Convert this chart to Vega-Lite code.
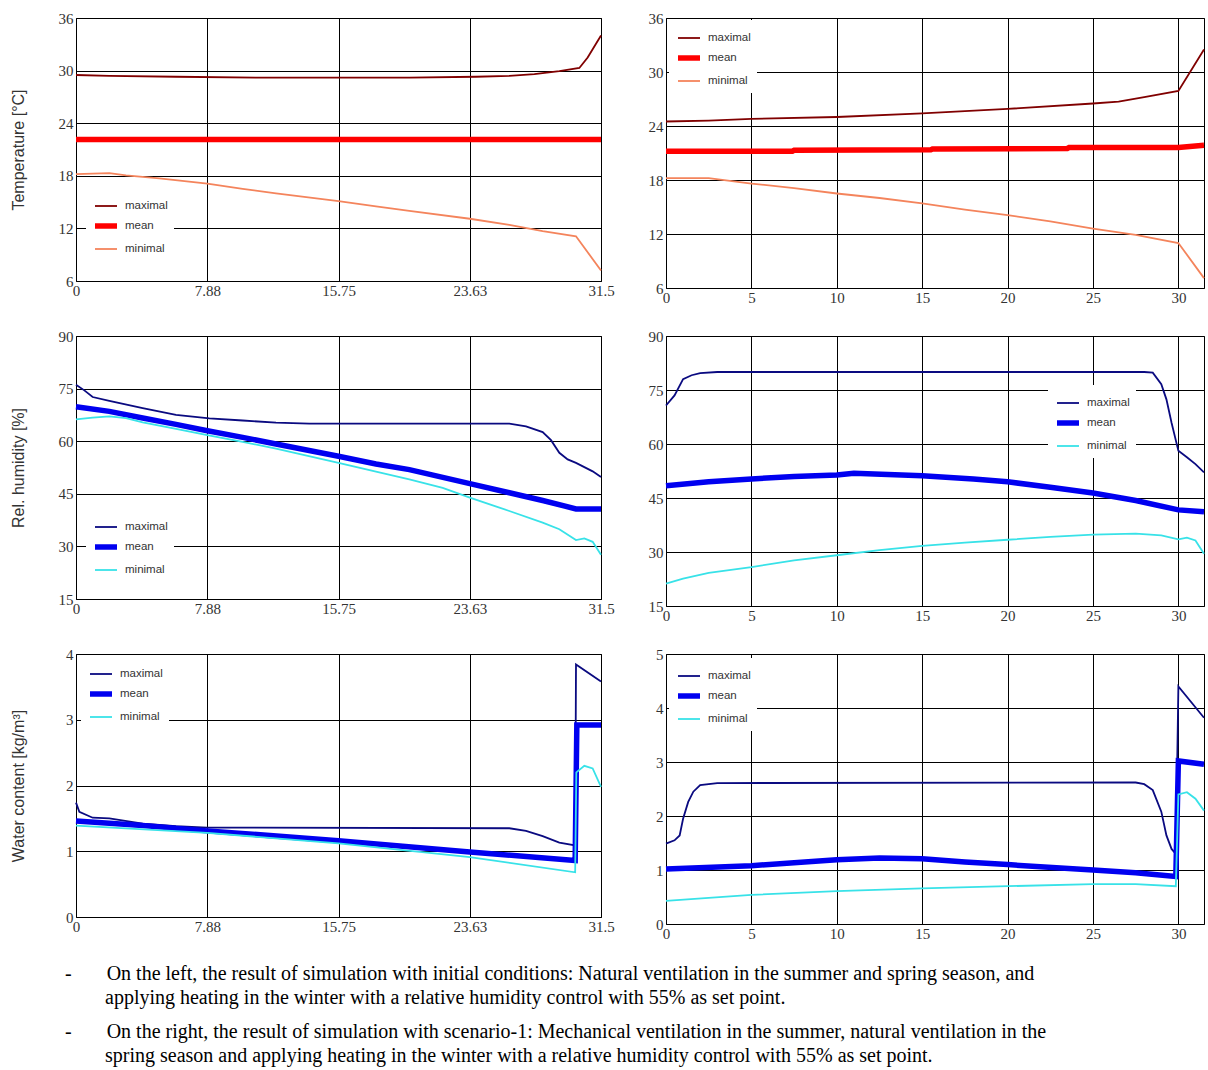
{
  "$schema": "https://vega.github.io/schema/vega-lite/v6.json",
  "background": "white",
  "padding": {"left": 9, "top": 10, "right": 4, "bottom": 5},
  "bounds": "flush",
  "align": "each",
  "columns": 2,
  "spacing": {"row": 48, "column": 65},
  "resolve": {
    "scale": {"color": "independent", "strokeWidth": "independent"},
    "legend": {"color": "independent", "strokeWidth": "independent"}
  },
  "title": {
    "text": ["-\u00a0\u00a0\u00a0\u00a0\u00a0\u00a0\u00a0On the left, the result of simulation with initial conditions: Natural ventilation in the summer and spring season, and", "\u200b\u00a0\u00a0\u00a0\u00a0\u00a0\u00a0\u00a0\u00a0applying heating in the winter with a relative humidity control with 55% as set point."],
    "subtitle": ["-\u00a0\u00a0\u00a0\u00a0\u00a0\u00a0\u00a0On the right, the result of simulation with scenario-1: Mechanical ventilation in the summer, natural ventilation in the", "\u200b\u00a0\u00a0\u00a0\u00a0\u00a0\u00a0\u00a0\u00a0spring season and applying heating in the winter with a relative humidity control with 55% as set point."],
    "orient": "bottom",
    "anchor": "start",
    "frame": "group",
    "dx": -11,
    "offset": 22,
    "font": "Liberation Serif",
    "fontSize": 20,
    "fontWeight": "normal",
    "color": "black",
    "lineHeight": 24,
    "subtitleFont": "Liberation Serif",
    "subtitleFontSize": 20,
    "subtitleFontWeight": "normal",
    "subtitleColor": "black",
    "subtitleLineHeight": 24,
    "subtitlePadding": 14
  },
  "config": {
    "view": {"stroke": "black", "strokeWidth": 1},
    "axis": {
      "grid": true, "gridColor": "black", "gridOpacity": 1, "gridWidth": 1,
      "domain": false, "ticks": false, "labelFlush": false,
      "labelFont": "Liberation Sans Narrow", "labelFontSize": 15, "labelColor": "#333333",
      "titleFont": "Liberation Sans", "titleFontSize": 16, "titleFontWeight": "normal", "titleColor": "#333333",
      "labelPadding": 3
    },
    "axisX": {"labelPadding": 2},
    "legend": {
      "orient": "none", "symbolType": "stroke", "symbolSize": 484,
      "labelFont": "Liberation Sans", "labelFontSize": 11.5, "labelColor": "#333333",
      "fillColor": "white", "padding": 6, "rowPadding": 0, "labelOffset": 5
    },
    "line": {"clip": true}
  },
  "datasets": {
    "tl": [
      {"day": 0, "value": 29.5, "series": "maximal"},
      {"day": 2, "value": 29.4, "series": "maximal"},
      {"day": 6, "value": 29.3, "series": "maximal"},
      {"day": 11, "value": 29.2, "series": "maximal"},
      {"day": 20, "value": 29.2, "series": "maximal"},
      {"day": 24, "value": 29.3, "series": "maximal"},
      {"day": 26, "value": 29.4, "series": "maximal"},
      {"day": 27.5, "value": 29.6, "series": "maximal"},
      {"day": 29, "value": 29.95, "series": "maximal"},
      {"day": 30.2, "value": 30.3, "series": "maximal"},
      {"day": 30.7, "value": 31.5, "series": "maximal"},
      {"day": 31.5, "value": 34.0, "series": "maximal"},
      {"day": 0, "value": 22.15, "series": "mean"},
      {"day": 31.5, "value": 22.15, "series": "mean"},
      {"day": 0, "value": 18.2, "series": "minimal"},
      {"day": 2, "value": 18.3, "series": "minimal"},
      {"day": 3, "value": 18.05, "series": "minimal"},
      {"day": 5, "value": 17.7, "series": "minimal"},
      {"day": 7.88, "value": 17.1, "series": "minimal"},
      {"day": 10, "value": 16.5, "series": "minimal"},
      {"day": 12, "value": 16.0, "series": "minimal"},
      {"day": 15.75, "value": 15.1, "series": "minimal"},
      {"day": 18, "value": 14.5, "series": "minimal"},
      {"day": 20, "value": 14.0, "series": "minimal"},
      {"day": 23.63, "value": 13.1, "series": "minimal"},
      {"day": 26, "value": 12.4, "series": "minimal"},
      {"day": 28, "value": 11.7, "series": "minimal"},
      {"day": 30, "value": 11.1, "series": "minimal"},
      {"day": 31.5, "value": 7.2, "series": "minimal"}
    ],
    "tr": [
      {"day": 0, "value": 24.5, "series": "maximal"},
      {"day": 2.5, "value": 24.6, "series": "maximal"},
      {"day": 5, "value": 24.8, "series": "maximal"},
      {"day": 10, "value": 25.0, "series": "maximal"},
      {"day": 15, "value": 25.4, "series": "maximal"},
      {"day": 20, "value": 25.9, "series": "maximal"},
      {"day": 25, "value": 26.5, "series": "maximal"},
      {"day": 26.5, "value": 26.7, "series": "maximal"},
      {"day": 28, "value": 27.2, "series": "maximal"},
      {"day": 30, "value": 27.9, "series": "maximal"},
      {"day": 31.5, "value": 32.5, "series": "maximal"},
      {"day": 0, "value": 21.2, "series": "mean"},
      {"day": 7.4, "value": 21.2, "series": "mean"},
      {"day": 7.5, "value": 21.3, "series": "mean"},
      {"day": 15.5, "value": 21.35, "series": "mean"},
      {"day": 15.6, "value": 21.45, "series": "mean"},
      {"day": 23.5, "value": 21.5, "series": "mean"},
      {"day": 23.6, "value": 21.6, "series": "mean"},
      {"day": 30, "value": 21.6, "series": "mean"},
      {"day": 31.5, "value": 21.85, "series": "mean"},
      {"day": 0, "value": 18.2, "series": "minimal"},
      {"day": 2.5, "value": 18.2, "series": "minimal"},
      {"day": 5, "value": 17.6, "series": "minimal"},
      {"day": 7.5, "value": 17.1, "series": "minimal"},
      {"day": 10, "value": 16.5, "series": "minimal"},
      {"day": 12.5, "value": 16.0, "series": "minimal"},
      {"day": 15, "value": 15.4, "series": "minimal"},
      {"day": 17.5, "value": 14.7, "series": "minimal"},
      {"day": 20, "value": 14.1, "series": "minimal"},
      {"day": 22.5, "value": 13.4, "series": "minimal"},
      {"day": 25, "value": 12.6, "series": "minimal"},
      {"day": 27.5, "value": 11.9, "series": "minimal"},
      {"day": 30, "value": 11.0, "series": "minimal"},
      {"day": 31.5, "value": 7.1, "series": "minimal"}
    ],
    "ml": [
      {"day": 0, "value": 76.1, "series": "maximal"},
      {"day": 0.5, "value": 74.5, "series": "maximal"},
      {"day": 1, "value": 72.6, "series": "maximal"},
      {"day": 2, "value": 71.5, "series": "maximal"},
      {"day": 4, "value": 69.4, "series": "maximal"},
      {"day": 6, "value": 67.5, "series": "maximal"},
      {"day": 8, "value": 66.5, "series": "maximal"},
      {"day": 10, "value": 65.9, "series": "maximal"},
      {"day": 12, "value": 65.3, "series": "maximal"},
      {"day": 14, "value": 65.0, "series": "maximal"},
      {"day": 26, "value": 65.0, "series": "maximal"},
      {"day": 27, "value": 64.2, "series": "maximal"},
      {"day": 28, "value": 62.6, "series": "maximal"},
      {"day": 28.5, "value": 60.3, "series": "maximal"},
      {"day": 29, "value": 56.7, "series": "maximal"},
      {"day": 29.5, "value": 54.8, "series": "maximal"},
      {"day": 30, "value": 53.8, "series": "maximal"},
      {"day": 31, "value": 51.4, "series": "maximal"},
      {"day": 31.5, "value": 49.8, "series": "maximal"},
      {"day": 0, "value": 69.8, "series": "mean"},
      {"day": 2, "value": 68.5, "series": "mean"},
      {"day": 4, "value": 66.6, "series": "mean"},
      {"day": 6, "value": 64.8, "series": "mean"},
      {"day": 7.88, "value": 63.0, "series": "mean"},
      {"day": 10, "value": 61.1, "series": "mean"},
      {"day": 12, "value": 59.2, "series": "mean"},
      {"day": 15.75, "value": 55.7, "series": "mean"},
      {"day": 18, "value": 53.5, "series": "mean"},
      {"day": 20, "value": 51.9, "series": "mean"},
      {"day": 23.63, "value": 47.9, "series": "mean"},
      {"day": 26, "value": 45.3, "series": "mean"},
      {"day": 28, "value": 43.1, "series": "mean"},
      {"day": 30, "value": 40.7, "series": "mean"},
      {"day": 31.5, "value": 40.7, "series": "mean"},
      {"day": 0, "value": 66.2, "series": "minimal"},
      {"day": 1, "value": 66.7, "series": "minimal"},
      {"day": 2, "value": 67.1, "series": "minimal"},
      {"day": 3, "value": 66.6, "series": "minimal"},
      {"day": 4, "value": 65.4, "series": "minimal"},
      {"day": 6, "value": 63.5, "series": "minimal"},
      {"day": 7.88, "value": 61.7, "series": "minimal"},
      {"day": 10, "value": 59.8, "series": "minimal"},
      {"day": 12, "value": 57.9, "series": "minimal"},
      {"day": 15.75, "value": 53.8, "series": "minimal"},
      {"day": 18, "value": 51.3, "series": "minimal"},
      {"day": 20, "value": 49.1, "series": "minimal"},
      {"day": 22, "value": 46.7, "series": "minimal"},
      {"day": 23.63, "value": 43.9, "series": "minimal"},
      {"day": 26, "value": 40.1, "series": "minimal"},
      {"day": 28, "value": 36.8, "series": "minimal"},
      {"day": 29, "value": 34.9, "series": "minimal"},
      {"day": 30, "value": 31.8, "series": "minimal"},
      {"day": 30.5, "value": 32.3, "series": "minimal"},
      {"day": 31, "value": 31.3, "series": "minimal"},
      {"day": 31.5, "value": 27.6, "series": "minimal"}
    ],
    "mr": [
      {"day": 0, "value": 70.7, "series": "maximal"},
      {"day": 0.5, "value": 73.5, "series": "maximal"},
      {"day": 1, "value": 78.0, "series": "maximal"},
      {"day": 1.5, "value": 79.1, "series": "maximal"},
      {"day": 2, "value": 79.7, "series": "maximal"},
      {"day": 3, "value": 80.0, "series": "maximal"},
      {"day": 28, "value": 80.0, "series": "maximal"},
      {"day": 28.5, "value": 79.8, "series": "maximal"},
      {"day": 29, "value": 76.6, "series": "maximal"},
      {"day": 29.3, "value": 72.4, "series": "maximal"},
      {"day": 29.6, "value": 65.9, "series": "maximal"},
      {"day": 30, "value": 58.1, "series": "maximal"},
      {"day": 30.5, "value": 56.3, "series": "maximal"},
      {"day": 31, "value": 54.4, "series": "maximal"},
      {"day": 31.5, "value": 52.1, "series": "maximal"},
      {"day": 0, "value": 48.4, "series": "mean"},
      {"day": 2.5, "value": 49.5, "series": "mean"},
      {"day": 5, "value": 50.3, "series": "mean"},
      {"day": 7.5, "value": 51.0, "series": "mean"},
      {"day": 10, "value": 51.4, "series": "mean"},
      {"day": 11, "value": 51.9, "series": "mean"},
      {"day": 13, "value": 51.5, "series": "mean"},
      {"day": 15, "value": 51.2, "series": "mean"},
      {"day": 18, "value": 50.3, "series": "mean"},
      {"day": 20, "value": 49.5, "series": "mean"},
      {"day": 22.5, "value": 48.0, "series": "mean"},
      {"day": 25, "value": 46.4, "series": "mean"},
      {"day": 27.5, "value": 44.3, "series": "mean"},
      {"day": 30, "value": 41.7, "series": "mean"},
      {"day": 31.5, "value": 41.2, "series": "mean"},
      {"day": 0, "value": 21.2, "series": "minimal"},
      {"day": 1, "value": 22.6, "series": "minimal"},
      {"day": 2.5, "value": 24.2, "series": "minimal"},
      {"day": 5, "value": 25.8, "series": "minimal"},
      {"day": 7.5, "value": 27.7, "series": "minimal"},
      {"day": 10, "value": 29.1, "series": "minimal"},
      {"day": 12.5, "value": 30.5, "series": "minimal"},
      {"day": 15, "value": 31.7, "series": "minimal"},
      {"day": 17.5, "value": 32.6, "series": "minimal"},
      {"day": 20, "value": 33.4, "series": "minimal"},
      {"day": 22.5, "value": 34.2, "series": "minimal"},
      {"day": 25, "value": 34.8, "series": "minimal"},
      {"day": 27.5, "value": 35.1, "series": "minimal"},
      {"day": 29, "value": 34.6, "series": "minimal"},
      {"day": 30, "value": 33.5, "series": "minimal"},
      {"day": 30.5, "value": 34.0, "series": "minimal"},
      {"day": 31, "value": 33.2, "series": "minimal"},
      {"day": 31.5, "value": 29.5, "series": "minimal"}
    ],
    "bl": [
      {"day": 0, "value": 1.74, "series": "maximal"},
      {"day": 0.2, "value": 1.6, "series": "maximal"},
      {"day": 1, "value": 1.51, "series": "maximal"},
      {"day": 2, "value": 1.5, "series": "maximal"},
      {"day": 4, "value": 1.42, "series": "maximal"},
      {"day": 6, "value": 1.38, "series": "maximal"},
      {"day": 7.88, "value": 1.36, "series": "maximal"},
      {"day": 26, "value": 1.35, "series": "maximal"},
      {"day": 27, "value": 1.31, "series": "maximal"},
      {"day": 28, "value": 1.23, "series": "maximal"},
      {"day": 29, "value": 1.13, "series": "maximal"},
      {"day": 29.95, "value": 1.09, "series": "maximal"},
      {"day": 30.0, "value": 3.84, "series": "maximal"},
      {"day": 31.5, "value": 3.58, "series": "maximal"},
      {"day": 0, "value": 1.46, "series": "mean"},
      {"day": 4, "value": 1.39, "series": "mean"},
      {"day": 7.88, "value": 1.31, "series": "mean"},
      {"day": 15.75, "value": 1.16, "series": "mean"},
      {"day": 23.63, "value": 0.99, "series": "mean"},
      {"day": 29.95, "value": 0.86, "series": "mean"},
      {"day": 30.05, "value": 2.92, "series": "mean"},
      {"day": 31.5, "value": 2.92, "series": "mean"},
      {"day": 0, "value": 1.39, "series": "minimal"},
      {"day": 7.88, "value": 1.28, "series": "minimal"},
      {"day": 15.75, "value": 1.12, "series": "minimal"},
      {"day": 23.63, "value": 0.91, "series": "minimal"},
      {"day": 29.95, "value": 0.68, "series": "minimal"},
      {"day": 30.02, "value": 2.2, "series": "minimal"},
      {"day": 30.5, "value": 2.3, "series": "minimal"},
      {"day": 31, "value": 2.26, "series": "minimal"},
      {"day": 31.5, "value": 1.98, "series": "minimal"}
    ],
    "br": [
      {"day": 0, "value": 1.49, "series": "maximal"},
      {"day": 0.5, "value": 1.55, "series": "maximal"},
      {"day": 0.8, "value": 1.64, "series": "maximal"},
      {"day": 1, "value": 1.95, "series": "maximal"},
      {"day": 1.3, "value": 2.26, "series": "maximal"},
      {"day": 1.6, "value": 2.45, "series": "maximal"},
      {"day": 2, "value": 2.57, "series": "maximal"},
      {"day": 3, "value": 2.61, "series": "maximal"},
      {"day": 27.5, "value": 2.62, "series": "maximal"},
      {"day": 28, "value": 2.59, "series": "maximal"},
      {"day": 28.5, "value": 2.48, "series": "maximal"},
      {"day": 29, "value": 2.08, "series": "maximal"},
      {"day": 29.3, "value": 1.64, "series": "maximal"},
      {"day": 29.6, "value": 1.39, "series": "maximal"},
      {"day": 29.85, "value": 1.3, "series": "maximal"},
      {"day": 30.0, "value": 4.4, "series": "maximal"},
      {"day": 31.5, "value": 3.82, "series": "maximal"},
      {"day": 0, "value": 1.02, "series": "mean"},
      {"day": 5, "value": 1.08, "series": "mean"},
      {"day": 10, "value": 1.19, "series": "mean"},
      {"day": 12.5, "value": 1.22, "series": "mean"},
      {"day": 15, "value": 1.21, "series": "mean"},
      {"day": 17.5, "value": 1.15, "series": "mean"},
      {"day": 20, "value": 1.1, "series": "mean"},
      {"day": 25, "value": 1.0, "series": "mean"},
      {"day": 27.5, "value": 0.95, "series": "mean"},
      {"day": 29.85, "value": 0.88, "series": "mean"},
      {"day": 30.0, "value": 3.02, "series": "mean"},
      {"day": 31.5, "value": 2.96, "series": "mean"},
      {"day": 0, "value": 0.43, "series": "minimal"},
      {"day": 5, "value": 0.54, "series": "minimal"},
      {"day": 10, "value": 0.61, "series": "minimal"},
      {"day": 15, "value": 0.66, "series": "minimal"},
      {"day": 20, "value": 0.7, "series": "minimal"},
      {"day": 25, "value": 0.74, "series": "minimal"},
      {"day": 27.5, "value": 0.74, "series": "minimal"},
      {"day": 29.85, "value": 0.7, "series": "minimal"},
      {"day": 30.0, "value": 2.4, "series": "minimal"},
      {"day": 30.5, "value": 2.44, "series": "minimal"},
      {"day": 31, "value": 2.32, "series": "minimal"},
      {"day": 31.5, "value": 2.1, "series": "minimal"}
    ]
  },
  "concat": [
    {
      "width": 525, "height": 263,
      "data": {"name": "tl"},
      "mark": "line",
      "encoding": {
        "x": {"field": "day", "type": "quantitative", "scale": {"domain": [0, 31.5], "nice": false, "zero": false}, "axis": {"values": [0, 7.875, 15.75, 23.625, 31.5], "format": ".2~f", "title": null}},
        "y": {"field": "value", "type": "quantitative", "scale": {"domain": [6, 36], "nice": false, "zero": false}, "axis": {"values": [6, 12, 18, 24, 30, 36], "title": "Temperature [°C]", "titlePadding": 32}},
        "color": {"field": "series", "type": "nominal", "scale": {"domain": ["maximal", "mean", "minimal"], "range": ["#800000", "#ff0000", "#f4845c"]}, "legend": {"title": null, "legendX": 10, "legendY": 170}},
        "strokeWidth": {"field": "series", "type": "nominal", "scale": {"type": "ordinal", "domain": ["maximal", "mean", "minimal"], "range": [1.8, 5.5, 1.8]}, "legend": {"title": null, "legendX": 10, "legendY": 170}}
      }
    },
    {
      "width": 538, "height": 270,
      "data": {"name": "tr"},
      "mark": "line",
      "encoding": {
        "x": {"field": "day", "type": "quantitative", "scale": {"domain": [0, 31.5], "nice": false, "zero": false}, "axis": {"values": [0, 5, 10, 15, 20, 25, 30], "title": null}},
        "y": {"field": "value", "type": "quantitative", "scale": {"domain": [6, 36], "nice": false, "zero": false}, "axis": {"values": [6, 12, 18, 24, 30, 36], "title": null}},
        "color": {"field": "series", "type": "nominal", "scale": {"domain": ["maximal", "mean", "minimal"], "range": ["#800000", "#ff0000", "#f4845c"]}, "legend": {"title": null, "legendX": 3, "legendY": 2}},
        "strokeWidth": {"field": "series", "type": "nominal", "scale": {"type": "ordinal", "domain": ["maximal", "mean", "minimal"], "range": [1.8, 5.5, 1.8]}, "legend": {"title": null, "legendX": 3, "legendY": 2}}
      }
    },
    {
      "width": 525, "height": 263,
      "data": {"name": "ml"},
      "mark": "line",
      "encoding": {
        "x": {"field": "day", "type": "quantitative", "scale": {"domain": [0, 31.5], "nice": false, "zero": false}, "axis": {"values": [0, 7.875, 15.75, 23.625, 31.5], "format": ".2~f", "title": null}},
        "y": {"field": "value", "type": "quantitative", "scale": {"domain": [15, 90], "nice": false, "zero": false}, "axis": {"values": [15, 30, 45, 60, 75, 90], "title": "Rel. humidity [%]", "titlePadding": 32}},
        "color": {"field": "series", "type": "nominal", "scale": {"domain": ["maximal", "mean", "minimal"], "range": ["#0a0a80", "#0000f0", "#38e2e8"]}, "legend": {"title": null, "legendX": 10, "legendY": 173}},
        "strokeWidth": {"field": "series", "type": "nominal", "scale": {"type": "ordinal", "domain": ["maximal", "mean", "minimal"], "range": [1.8, 5.5, 1.8]}, "legend": {"title": null, "legendX": 10, "legendY": 173}}
      }
    },
    {
      "width": 538, "height": 270,
      "data": {"name": "mr"},
      "mark": "line",
      "encoding": {
        "x": {"field": "day", "type": "quantitative", "scale": {"domain": [0, 31.5], "nice": false, "zero": false}, "axis": {"values": [0, 5, 10, 15, 20, 25, 30], "title": null}},
        "y": {"field": "value", "type": "quantitative", "scale": {"domain": [15, 90], "nice": false, "zero": false}, "axis": {"values": [15, 30, 45, 60, 75, 90], "title": null}},
        "color": {"field": "series", "type": "nominal", "scale": {"domain": ["maximal", "mean", "minimal"], "range": ["#0a0a80", "#0000f0", "#38e2e8"]}, "legend": {"title": null, "legendX": 382, "legendY": 49}},
        "strokeWidth": {"field": "series", "type": "nominal", "scale": {"type": "ordinal", "domain": ["maximal", "mean", "minimal"], "range": [1.8, 5.5, 1.8]}, "legend": {"title": null, "legendX": 382, "legendY": 49}}
      }
    },
    {
      "width": 525, "height": 263,
      "data": {"name": "bl"},
      "mark": "line",
      "encoding": {
        "x": {"field": "day", "type": "quantitative", "scale": {"domain": [0, 31.5], "nice": false, "zero": false}, "axis": {"values": [0, 7.875, 15.75, 23.625, 31.5], "format": ".2~f", "title": null}},
        "y": {"field": "value", "type": "quantitative", "scale": {"domain": [0, 4], "nice": false, "zero": false}, "axis": {"values": [0, 1, 2, 3, 4], "title": "Water content [kg/m³]", "titlePadding": 39}},
        "color": {"field": "series", "type": "nominal", "scale": {"domain": ["maximal", "mean", "minimal"], "range": ["#0a0a80", "#0000f0", "#38e2e8"]}, "legend": {"title": null, "legendX": 5, "legendY": 2}},
        "strokeWidth": {"field": "series", "type": "nominal", "scale": {"type": "ordinal", "domain": ["maximal", "mean", "minimal"], "range": [1.8, 5.5, 1.8]}, "legend": {"title": null, "legendX": 5, "legendY": 2}}
      }
    },
    {
      "width": 538, "height": 270,
      "data": {"name": "br"},
      "mark": "line",
      "encoding": {
        "x": {"field": "day", "type": "quantitative", "scale": {"domain": [0, 31.5], "nice": false, "zero": false}, "axis": {"values": [0, 5, 10, 15, 20, 25, 30], "title": null}},
        "y": {"field": "value", "type": "quantitative", "scale": {"domain": [0, 5], "nice": false, "zero": false}, "axis": {"values": [0, 1, 2, 3, 4, 5], "title": null}},
        "color": {"field": "series", "type": "nominal", "scale": {"domain": ["maximal", "mean", "minimal"], "range": ["#0a0a80", "#0000f0", "#38e2e8"]}, "legend": {"title": null, "legendX": 3, "legendY": 4}},
        "strokeWidth": {"field": "series", "type": "nominal", "scale": {"type": "ordinal", "domain": ["maximal", "mean", "minimal"], "range": [1.8, 5.5, 1.8]}, "legend": {"title": null, "legendX": 3, "legendY": 4}}
      }
    }
  ]
}
